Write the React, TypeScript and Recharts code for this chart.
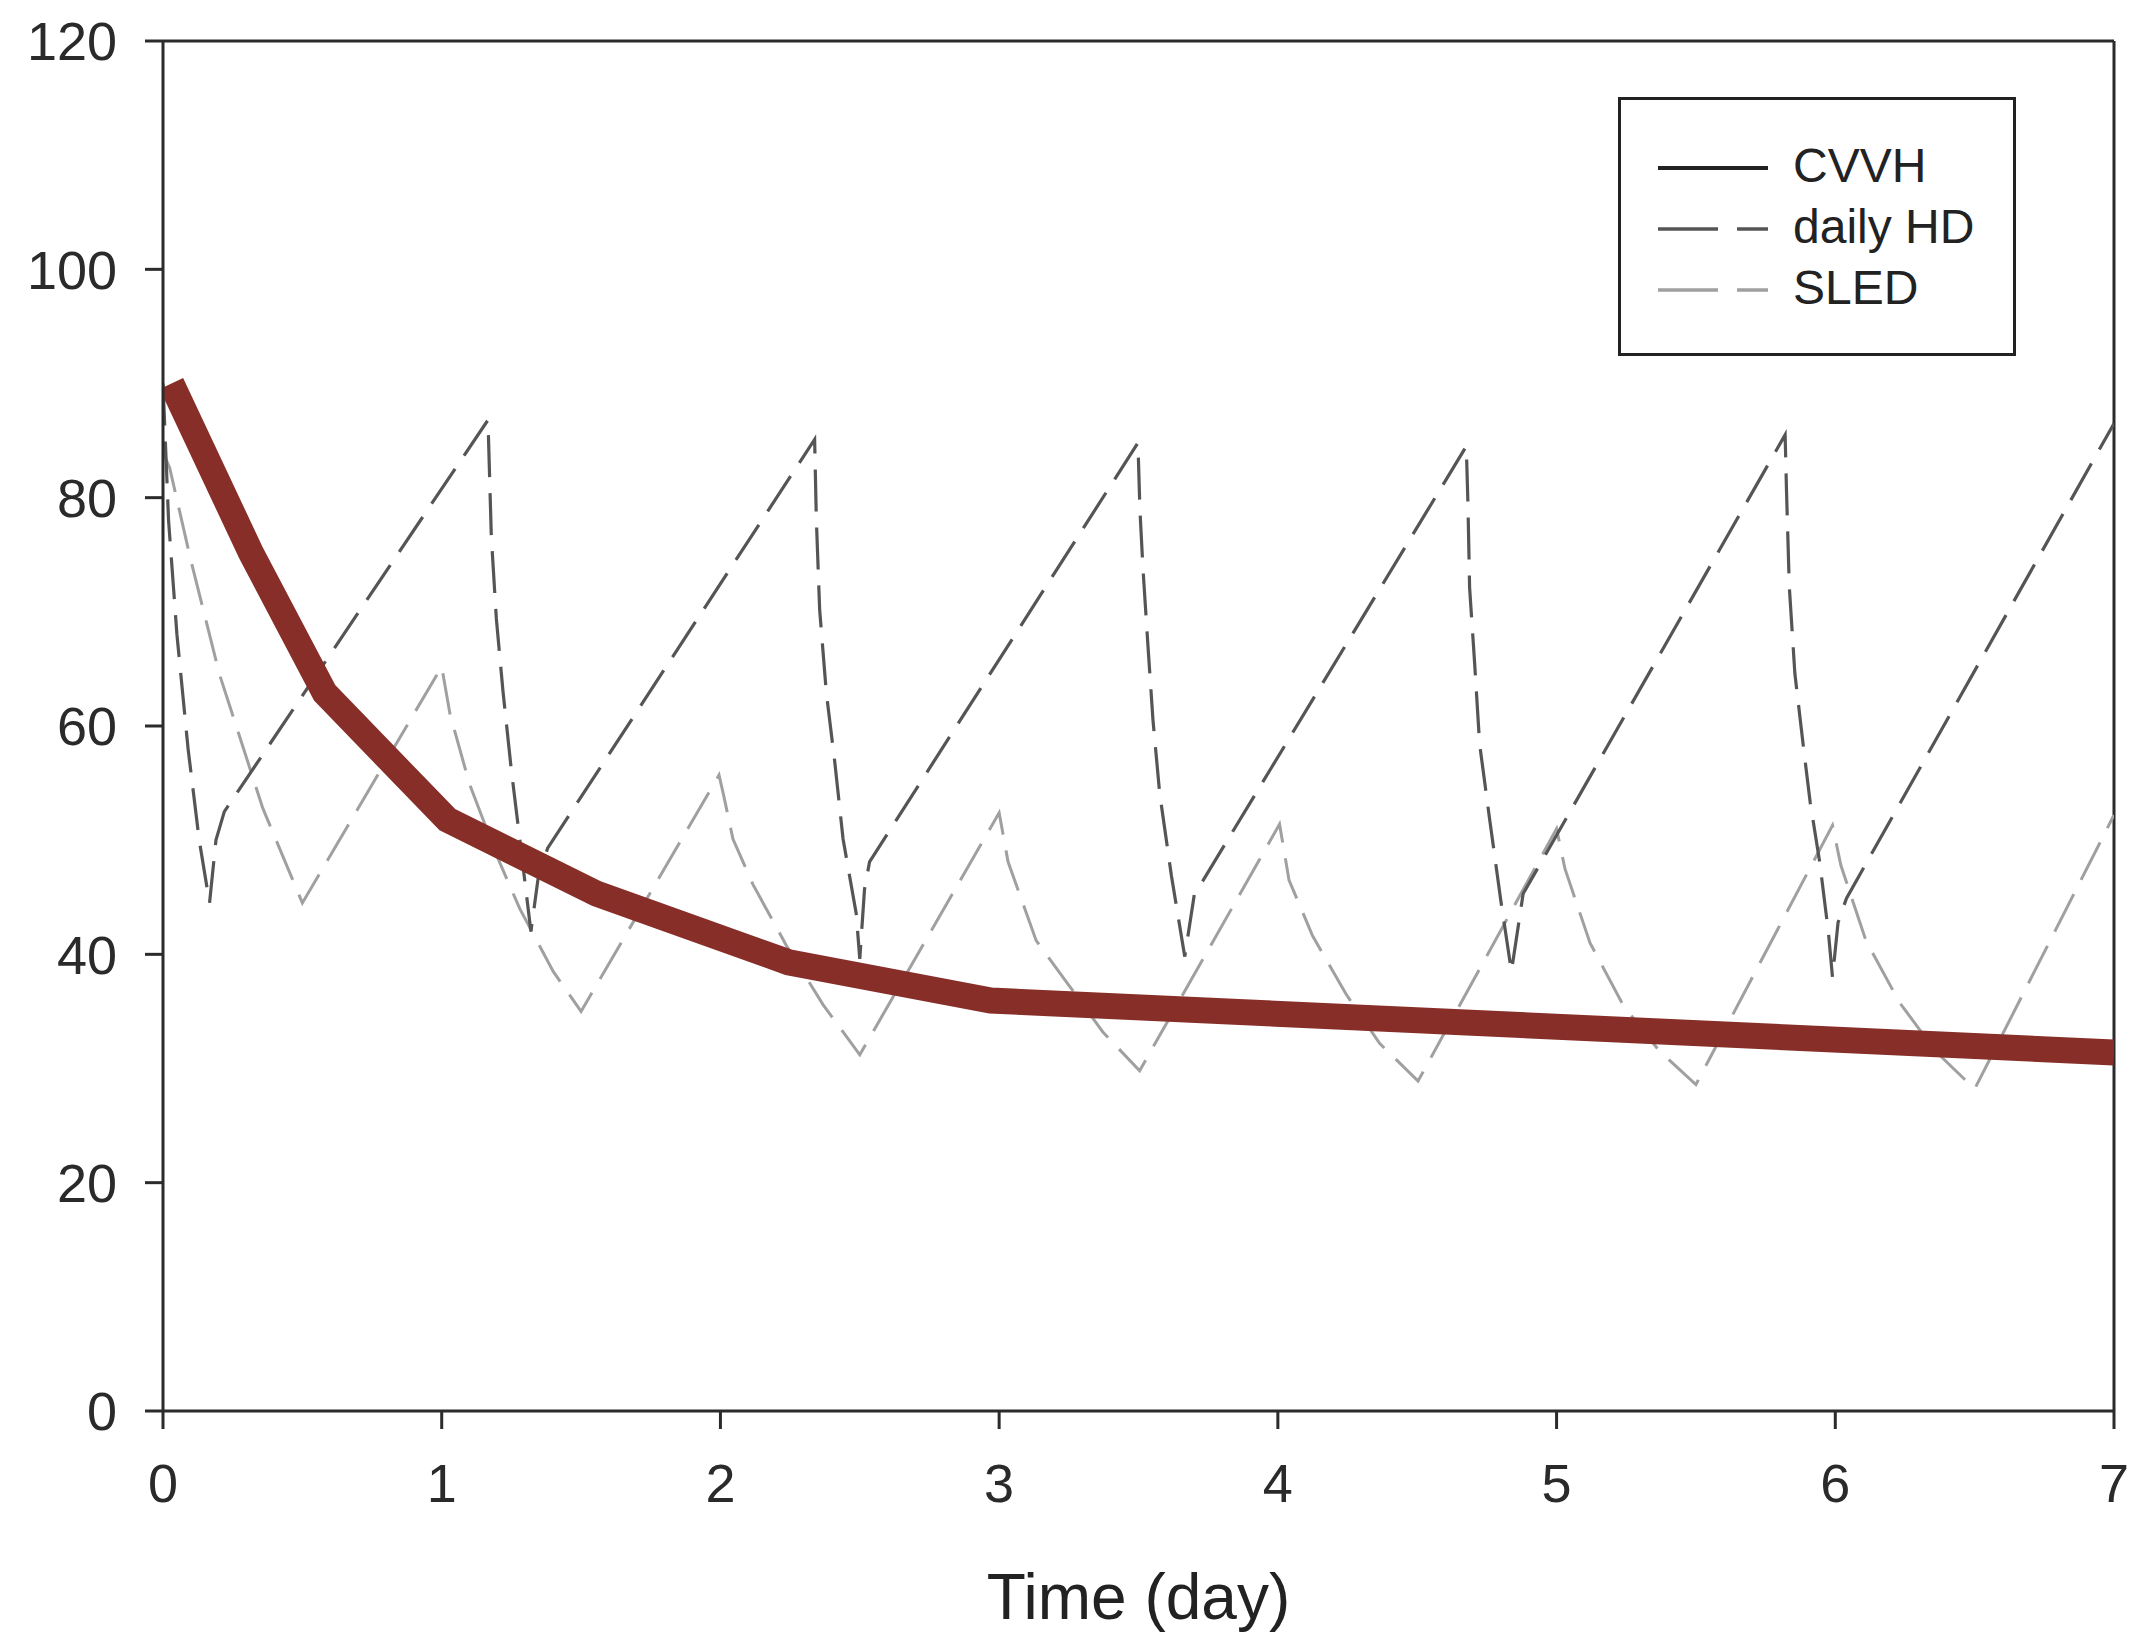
import React from "react";
import { Legend, Line, LineChart, ReferenceLine, XAxis, YAxis } from "recharts";

// time (day) / concentration points
const cvvh = [
  { t: 0.03, v: 90 },
  { t: 0.315, v: 75.2 },
  { t: 0.58, v: 62.9 },
  { t: 1.02, v: 51.8 },
  { t: 1.557, v: 45.3 },
  { t: 2.245, v: 39.3 },
  { t: 2.97, v: 35.95 },
  { t: 7.0, v: 31.4 },
];

const dailyHD = [
  { t: 0, v: 90 },
  { t: 0.02, v: 78 },
  { t: 0.05, v: 68 },
  { t: 0.09, v: 58 },
  { t: 0.13, v: 50 },
  { t: 0.167, v: 44.5 },
  { t: 0.19, v: 50 },
  { t: 0.22, v: 52.5 },
  { t: 1.166, v: 86.8 },
  { t: 1.178, v: 76.6 },
  { t: 1.196, v: 69.4 },
  { t: 1.22, v: 63 },
  { t: 1.25, v: 56.1 },
  { t: 1.28, v: 50.1 },
  { t: 1.32, v: 42 },
  { t: 1.345, v: 46.5 },
  { t: 1.38, v: 49.3 },
  { t: 2.338, v: 85.1 },
  { t: 2.344, v: 78.2 },
  { t: 2.356, v: 70.2 },
  { t: 2.38, v: 62.9 },
  { t: 2.41, v: 56.9 },
  { t: 2.44, v: 50.1 },
  { t: 2.487, v: 43.6 },
  { t: 2.5, v: 39.6 },
  { t: 2.517, v: 45.7 },
  { t: 2.535, v: 48.1 },
  { t: 3.498, v: 84.8 },
  { t: 3.505, v: 79 },
  { t: 3.516, v: 73.8 },
  { t: 3.534, v: 67 },
  { t: 3.552, v: 60.5 },
  { t: 3.576, v: 54.1 },
  { t: 3.618, v: 46.9 },
  { t: 3.666, v: 39.8 },
  { t: 3.7, v: 45.2 },
  { t: 4.676, v: 84.5 },
  { t: 4.682, v: 79.5 },
  { t: 4.688, v: 72.1 },
  { t: 4.706, v: 65.5 },
  { t: 4.724, v: 58.4 },
  { t: 4.76, v: 51.8 },
  { t: 4.8, v: 44.7 },
  { t: 4.838, v: 38.5 },
  { t: 4.88, v: 45.3 },
  { t: 5.82, v: 85.5 },
  { t: 5.825, v: 80.6 },
  { t: 5.835, v: 72.2 },
  { t: 5.855, v: 64.6 },
  { t: 5.886, v: 58.1 },
  { t: 5.91, v: 53.3 },
  { t: 5.944, v: 48.1 },
  { t: 5.975, v: 42 },
  { t: 5.99, v: 38 },
  { t: 6.01, v: 42.8 },
  { t: 6.04, v: 44.9 },
  { t: 7.0, v: 86.5 },
];

const sled = [
  { t: 0, v: 84 },
  { t: 0.024, v: 82.6 },
  { t: 0.1, v: 74.5 },
  { t: 0.203, v: 64.5 },
  { t: 0.358, v: 52.8 },
  { t: 0.5, v: 44.5 },
  { t: 1.0, v: 65.2 },
  { t: 1.03, v: 61 },
  { t: 1.1, v: 54.9 },
  { t: 1.2, v: 48.5 },
  { t: 1.28, v: 44 },
  { t: 1.4, v: 38.5 },
  { t: 1.5, v: 35 },
  { t: 1.995, v: 55.7 },
  { t: 2.01, v: 54.1 },
  { t: 2.045, v: 50.1 },
  { t: 2.117, v: 46.1 },
  { t: 2.236, v: 40.8 },
  { t: 2.368, v: 35.6 },
  { t: 2.5, v: 31.2 },
  { t: 3.0, v: 52.4 },
  { t: 3.032, v: 48.1 },
  { t: 3.133, v: 41.2 },
  { t: 3.253, v: 37.2 },
  { t: 3.372, v: 33.2 },
  { t: 3.504, v: 29.8 },
  { t: 4.006, v: 51.4 },
  { t: 4.02, v: 49.4 },
  { t: 4.04, v: 46.5 },
  { t: 4.125, v: 41.6 },
  { t: 4.245, v: 36.5 },
  { t: 4.365, v: 32.2 },
  { t: 4.503, v: 28.9 },
  { t: 5.0, v: 51.0 },
  { t: 5.03, v: 47.5 },
  { t: 5.12, v: 41 },
  { t: 5.24, v: 35.5 },
  { t: 5.37, v: 31.5 },
  { t: 5.5, v: 28.6 },
  { t: 5.99, v: 51.3 },
  { t: 6.02, v: 47.8 },
  { t: 6.11, v: 41.2 },
  { t: 6.23, v: 35.8 },
  { t: 6.36, v: 31.5 },
  { t: 6.5, v: 28.2 },
  { t: 7.0, v: 52.2 },
];

const xTicks = [0, 1, 2, 3, 4, 5, 6, 7];
const yTicks = [0, 20, 40, 60, 80, 100, 120];
const legendOrder = ["CVVH", "daily HD", "SLED"];

const FONT = "'Liberation Sans', Arial, Helvetica, sans-serif";
const AXIS = "#2b2b2b";

const legendLook: Record<string, { stroke: string; dash?: string; width: number }> = {
  CVVH: { stroke: "#222", width: 4 },
  "daily HD": { stroke: "#555", dash: "60 19", width: 3.5 },
  SLED: { stroke: "#a0a0a0", dash: "60 19", width: 3.5 },
};

function LegendBox({ payload }: any) {
  const names = legendOrder.filter((n) => (payload || []).some((p: any) => p.value === n));
  return (
    <div
      style={{
        width: 398,
        height: 259,
        border: "3px solid #222",
        boxSizing: "border-box",
        background: "#fff",
      }}
    >
      <svg width={392} height={253}>
        {names.map((name, i) => {
          const look = legendLook[name];
          const y = 68 + i * 61;
          return (
            <g key={name}>
              <line
                x1={37}
                x2={147}
                y1={y}
                y2={y}
                stroke={look.stroke}
                strokeWidth={look.width}
                strokeDasharray={look.dash}
              />
              <text x={172} y={y + 14} fontSize={48} fill="#222" fontFamily={FONT}>
                {name}
              </text>
            </g>
          );
        })}
      </svg>
    </div>
  );
}

export default function App() {
  const tick = { fontSize: 54, fill: "#2a2a2a", fontFamily: FONT };
  const axisLine = { stroke: AXIS, strokeWidth: 3 };
  return (
    <div style={{ width: 2135, height: 1638, fontFamily: FONT, background: "#fff" }}>
      <style>{"body{margin:0}"}</style>
      <LineChart width={2135} height={1638} margin={{ top: 41, right: 21, bottom: 0, left: 0 }}>
        <XAxis
          type="number"
          dataKey="t"
          domain={[0, 7]}
          ticks={xTicks}
          interval={0}
          allowDataOverflow
          height={227}
          tickSize={18}
          tickMargin={35}
          axisLine={axisLine}
          tickLine={axisLine}
          tick={tick}
          label={{
            value: "Time (day)",
            position: "insideBottom",
            offset: 19,
            fontSize: 64,
            fill: "#222",
            fontFamily: FONT,
          }}
        />
        <YAxis
          type="number"
          domain={[0, 120]}
          ticks={yTicks}
          interval={0}
          allowDataOverflow
          width={163}
          tickSize={18}
          tickMargin={28}
          axisLine={axisLine}
          tickLine={axisLine}
          tick={tick}
        />
        <ReferenceLine y={120} stroke={AXIS} strokeWidth={3} />
        <ReferenceLine x={7} stroke={AXIS} strokeWidth={3} />
        <Line
          data={sled}
          dataKey="v"
          name="SLED"
          stroke="#a0a0a0"
          strokeWidth={3}
          strokeDasharray="42 16"
          dot={false}
          activeDot={false}
          isAnimationActive={false}
        />
        <Line
          data={dailyHD}
          dataKey="v"
          name="daily HD"
          stroke="#555"
          strokeWidth={3.2}
          strokeDasharray="42 16"
          dot={false}
          activeDot={false}
          isAnimationActive={false}
        />
        <Line
          data={cvvh}
          dataKey="v"
          name="CVVH"
          stroke="#872E28"
          strokeWidth={26}
          dot={false}
          activeDot={false}
          isAnimationActive={false}
        />
        <Legend
          layout="horizontal"
          verticalAlign="middle"
          align="center"
          content={<LegendBox />}
          wrapperStyle={{ left: 1618, top: 97, width: 398, height: 259 }}
        />
      </LineChart>
    </div>
  );
}
